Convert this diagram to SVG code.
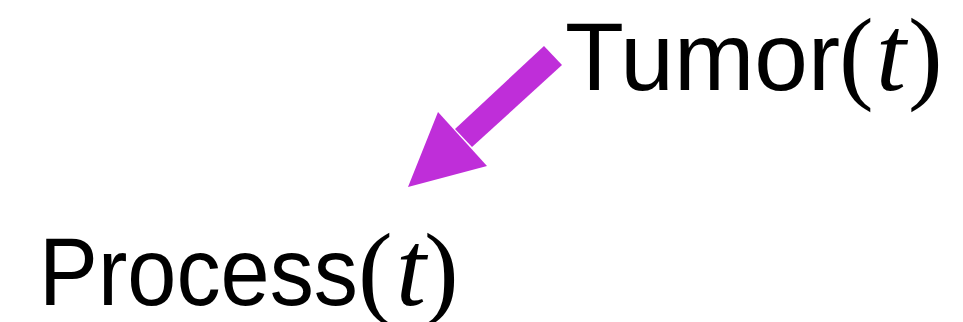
<svg xmlns="http://www.w3.org/2000/svg" width="963" height="322" viewBox="0 0 963 322">
<style>
.lbl{font-family:"Liberation Sans",Arial,sans-serif;font-size:97px;fill:#000}
.sr{font-family:"Liberation Serif","Times New Roman",serif;font-size:104px}
.it{font-style:italic;font-size:108px}
.arr{fill:#BF2ED9}
</style>
<rect width="963" height="322" fill="#fff"/>
<g id="connectors">
<polygon class="arr" points="544,46 562,65 472,147 455,129"/>
<polygon class="arr" points="438,112 487,166 408,187"/>
</g>
<g id="tumor">
<text class="lbl" y="90"><tspan x="565" textLength="275" lengthAdjust="spacingAndGlyphs">Tumor</tspan><tspan class="sr" x="839">(</tspan><tspan class="sr it" x="876">t</tspan><tspan class="sr" x="908">)</tspan></text>
</g>
<g id="process">
<text class="lbl" y="305"><tspan x="39" textLength="319" lengthAdjust="spacingAndGlyphs">Process</tspan><tspan class="sr" x="358">(</tspan><tspan class="sr it" x="396">t</tspan><tspan class="sr" x="424">)</tspan></text>
</g>
</svg>
